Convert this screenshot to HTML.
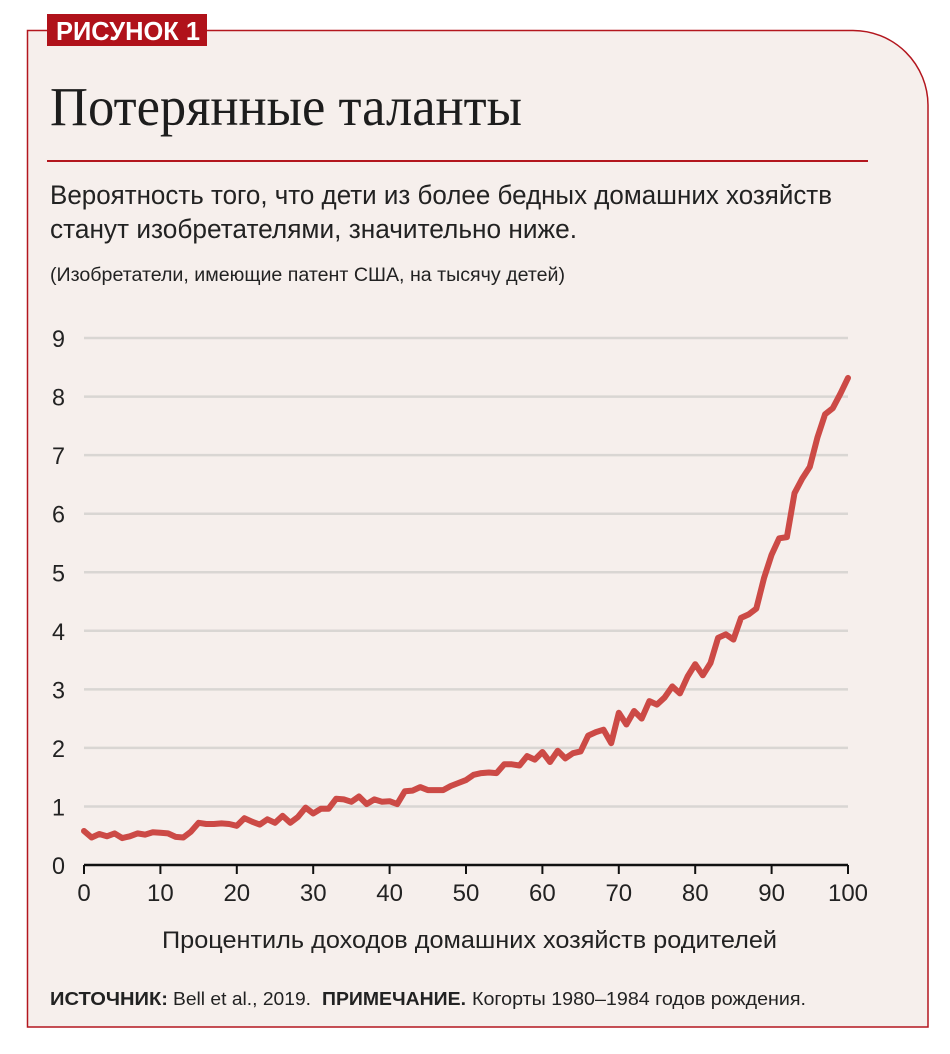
<!DOCTYPE html>
<html><head><meta charset="utf-8"><style>
html,body{margin:0;padding:0;background:#fff;}
svg{display:block;}
text{font-family:"Liberation Sans",sans-serif;fill:#222;}
</style></head><body>
<svg width="950" height="1054" viewBox="0 0 950 1054" xmlns="http://www.w3.org/2000/svg">
<path d="M27.5,30.5 H853 A75,75 0 0 1 928,105 V1027 H27.5 Z" fill="#f6efec" stroke="#b3161e" stroke-width="1.5"/>
<rect x="47" y="14" width="160" height="32" fill="#b0121a"/>
<text x="56" y="40" font-size="26" font-weight="bold" style="fill:#fff" textLength="144" lengthAdjust="spacingAndGlyphs">РИСУНОК 1</text>
<text x="50" y="125" font-size="55" style="font-family:'Liberation Serif',serif;fill:#1d1d1d" textLength="472" lengthAdjust="spacingAndGlyphs">Потерянные таланты</text>
<rect x="47" y="160" width="821" height="2" fill="#b3161e"/>
<text x="50" y="204" font-size="27" textLength="782" lengthAdjust="spacingAndGlyphs">Вероятность того, что дети из более бедных домашних хозяйств</text>
<text x="50" y="238" font-size="27" textLength="527" lengthAdjust="spacingAndGlyphs">станут изобретателями, значительно ниже.</text>
<text x="50" y="281" font-size="19" textLength="515" lengthAdjust="spacingAndGlyphs">(Изобретатели, имеющие патент США, на тысячу детей)</text>
<g id="grid" stroke="#d9d6d3" stroke-width="2.5"></g>
<g id="ylab" font-size="24"></g>
<line x1="84" y1="865" x2="848" y2="865" stroke="#111" stroke-width="2.5"/>
<g id="ticks" stroke="#111" stroke-width="2"></g>
<g id="xlab" font-size="24" text-anchor="middle"></g>
<path id="line" fill="none" stroke="#cc4a46" stroke-width="6" stroke-linejoin="round" stroke-linecap="round"/>
<text x="162" y="948" font-size="24" textLength="615" lengthAdjust="spacingAndGlyphs">Процентиль доходов домашних хозяйств родителей</text>
<text x="50" y="1005" font-size="18" font-weight="bold" textLength="118" lengthAdjust="spacingAndGlyphs">ИСТОЧНИК:</text>
<text x="173" y="1005" font-size="18" textLength="138" lengthAdjust="spacingAndGlyphs">Bell et al., 2019.</text>
<text x="322" y="1005" font-size="18" font-weight="bold" textLength="144" lengthAdjust="spacingAndGlyphs">ПРИМЕЧАНИЕ.</text>
<text x="472" y="1005" font-size="18" textLength="334" lengthAdjust="spacingAndGlyphs">Когорты 1980–1984 годов рождения.</text>
</svg>
<script>
var NS="http://www.w3.org/2000/svg";
function X(v){return 84+v*7.64;} function Y(v){return 865-v*58.55;}
function el(p,t,a,txt){var e=document.createElementNS(NS,t);for(var k in a)e.setAttribute(k,a[k]);if(txt!=null)e.textContent=txt;document.getElementById(p).appendChild(e);}
for(var i=1;i<=9;i++){el("grid","line",{x1:84,x2:848,y1:Y(i),y2:Y(i)});}
for(var i=0;i<=9;i++){el("ylab","text",{x:52,y:Y(i)+9,textLength:13,lengthAdjust:"spacingAndGlyphs"},String(i));}
for(var i=0;i<=100;i+=10){el("ticks","line",{x1:X(i),x2:X(i),y1:865,y2:874});el("xlab","text",{x:X(i),y:901},String(i));}
var d=[0.58,0.47,0.53,0.49,0.54,0.46,0.49,0.54,0.52,0.56,0.55,0.54,0.48,0.47,0.57,0.72,0.70,0.70,0.71,0.70,0.67,0.80,0.74,0.69,0.78,0.72,0.84,0.72,0.82,0.98,0.88,0.96,0.96,1.13,1.12,1.08,1.17,1.04,1.12,1.08,1.09,1.04,1.26,1.27,1.33,1.28,1.28,1.28,1.35,1.40,1.45,1.54,1.57,1.58,1.57,1.72,1.72,1.70,1.86,1.80,1.93,1.76,1.95,1.82,1.91,1.94,2.21,2.27,2.31,2.08,2.60,2.40,2.63,2.50,2.80,2.74,2.86,3.05,2.93,3.22,3.43,3.24,3.45,3.88,3.94,3.85,4.22,4.28,4.38,4.90,5.30,5.58,5.60,6.35,6.60,6.80,7.30,7.70,7.80,8.05,8.32];
var p="";for(var i=0;i<d.length;i++){p+=(i?"L":"M")+X(i).toFixed(1)+","+Y(d[i]).toFixed(1);}
document.getElementById("line").setAttribute("d",p);
</script>
</body></html>
